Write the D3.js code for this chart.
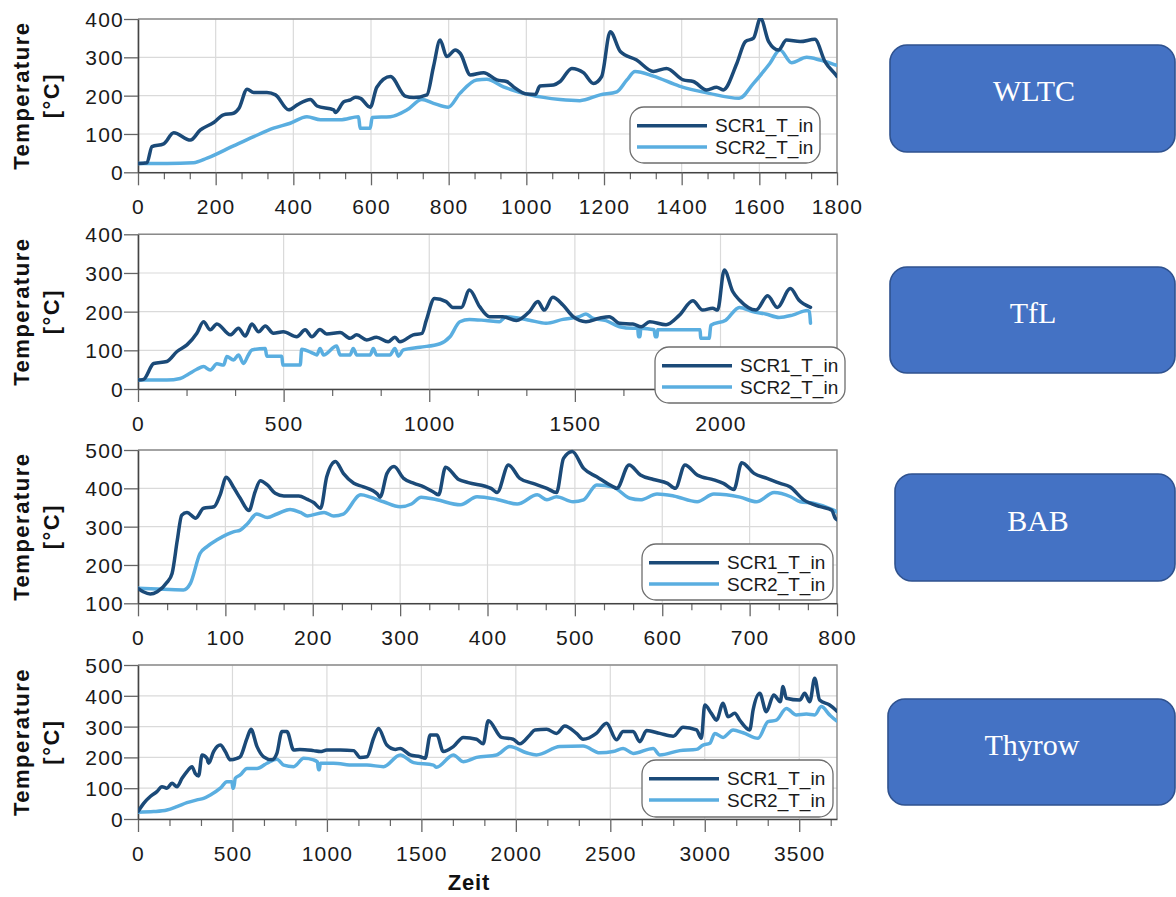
<!DOCTYPE html>
<html>
<head>
<meta charset="utf-8">
<script src="https://cdn.jsdelivr.net/npm/d3@7"></script>
<style>
  body { margin: 0; background: #fff; }
  svg { display: block; }
  .tick text { font-family: "Liberation Sans", Arial, sans-serif; font-size: 21px; letter-spacing: 1.2px; fill: #1a1a1a; }
</style>
</head>
<body>
<svg id="chart" width="1176" height="897"></svg>
<script>
// ---- Drive cycles and series ----
const cycleNames = ["WLTC", "TfL", "BAB", "Thyrow"];
const seriesNames = ["SCR1_T_in", "SCR2_T_in"];
const xAxisTitle = "Zeit";
const yAxisTitle = ["Temperature", "[°C]"];

// ---- Axis ticks and ranges ----
const wltcXTicks = [0, 200, 400, 600, 800, 1000, 1200, 1400, 1600, 1800];
const tflXTicks = [0, 500, 1000, 1500, 2000];
const babXTicks = [0, 100, 200, 300, 400, 500, 600, 700, 800];
const thyrowXTicks = [0, 500, 1000, 1500, 2000, 2500, 3000, 3500];
const wltcYTicks = [0, 100, 200, 300, 400];
const tflYTicks = [0, 100, 200, 300, 400];
const babYTicks = [100, 200, 300, 400, 500];
const thyrowYTicks = [0, 100, 200, 300, 400, 500];
const wltcXMax = 1800, tflXMax = 2400, babXMax = 800, thyrowXMax = 3700;

// ---- WLTC ----
const wltcT1 = [0,23,36,66,92,135,160,195,220,246,260,281,298,332,354,388,410,444,461,504,508,530,547,560,573,598,615,650,688,710,744,761,778,795,817,830,856,890,924,949,967,1001,1023,1035,1070,1087,1117,1147,1173,1194,1216,1242,1284,1327,1361,1404,1430,1464,1490,1507,1542,1564,1585,1603,1624,1649,1670,1705,1743,1769,1797,1800];
const wltcV1 = [23,25,67,74,103,84,110,130,150,154,167,217,208,208,202,163,176,190,173,163,156,184,189,196,193,170,222,250,199,195,202,276,345,302,319,310,254,260,241,237,223,204,203,225,228,237,271,260,232,250,367,315,293,263,271,241,237,215,222,215,284,341,350,402,341,319,345,341,347,289,254,250];
const wltcT2 = [0,75,143,178,246,298,349,392,435,470,521,568,572,598,603,650,693,731,761,799,829,872,898,941,1009,1087,1138,1190,1233,1259,1280,1327,1394,1471,1548,1585,1627,1653,1683,1722,1756,1797,1800];
const wltcV2 = [23,23,25,37,69,93,115,128,145,137,137,145,115,115,143,145,163,190,180,170,206,241,243,223,202,190,187,202,210,241,263,251,225,206,193,232,284,319,286,300,293,280,279];

// ---- TfL ----
const tflT1 = [0,19,54,99,134,168,202,225,248,271,317,345,368,391,414,437,465,499,545,574,597,625,648,694,728,751,785,819,859,882,899,945,975,990,1018,1058,1081,1110,1138,1173,1207,1253,1299,1344,1373,1395,1424,1459,1494,1538,1584,1618,1653,1699,1728,1757,1813,1859,1905,1939,1973,1990,2013,2042,2065,2122,2162,2195,2240,2269,2309];
const tflV1 = [23,25,66,71,97,114,144,174,153,168,140,157,137,168,148,163,144,148,135,153,135,154,142,146,131,140,127,134,122,134,122,140,144,178,234,226,211,211,256,213,187,187,177,200,226,204,237,217,187,174,183,187,170,168,161,174,166,191,228,204,209,204,308,252,230,204,241,211,260,230,211];
const tflT2 = [0,99,145,174,202,225,248,271,294,305,328,345,362,379,391,437,442,494,497,557,562,602,614,625,637,682,694,728,739,751,797,808,819,865,882,894,911,968,1037,1071,1105,1138,1195,1241,1264,1310,1344,1401,1459,1515,1538,1561,1607,1653,1699,1716,1718,1724,1726,1772,1776,1782,1784,1859,1930,1932,1961,1967,2018,2065,2110,2155,2201,2247,2298,2305,2309];
const tflV2 = [23,23,27,39,51,58,49,65,62,84,75,88,66,88,101,105,85,85,62,62,103,92,88,105,88,111,88,88,105,88,88,105,88,88,105,85,101,108,117,135,174,180,177,174,187,183,178,170,180,187,194,183,177,161,157,157,135,135,157,153,135,135,153,153,153,131,131,165,178,211,200,194,185,191,203,200,170];

// ---- BAB ----
const babT1 = [0,6,14,22,33,39,45,50,56,66,75,87,94,101,110,117,127,134,140,148,157,167,184,194,201,209,216,226,235,247,258,274,277,285,293,304,316,327,339,344,352,367,378,404,411,424,437,452,468,479,487,497,510,525,544,548,562,575,590,606,615,626,640,659,670,682,691,705,720,735,746,762,781,794,798,800];
const babV1 = [139,130,124,130,154,178,265,330,337,322,348,352,383,429,400,374,342,391,420,409,387,380,380,371,363,348,430,470,439,413,404,385,377,439,457,426,413,404,389,383,455,423,415,400,389,461,426,413,400,389,478,496,452,430,404,400,461,435,423,413,400,461,435,422,413,397,467,439,426,413,404,370,352,343,322,318];
const babT2 = [0,22,52,60,71,79,90,102,110,117,125,136,148,159,174,186,194,213,224,235,255,266,281,300,313,324,342,369,388,411,434,457,468,479,498,510,525,544,563,575,594,613,640,659,689,708,728,747,758,773,796,800];
const babV2 = [139,137,135,152,230,248,265,280,287,291,307,333,324,333,345,337,328,337,328,333,383,377,365,352,359,377,370,357,378,371,359,383,370,378,365,370,409,403,374,370,385,380,365,385,377,365,389,378,365,361,343,338];

// ---- Thyrow ----
const thyrowT1 = [0,30,65,100,127,153,180,206,233,259,286,303,321,339,365,374,400,436,462,489,524,541,577,598,630,665,709,735,762,788,824,857,929,965,1000,1071,1141,1176,1212,1247,1273,1317,1362,1388,1441,1494,1520,1547,1582,1616,1669,1722,1792,1827,1854,1924,1986,2021,2074,2101,2163,2215,2259,2321,2356,2426,2480,2533,2568,2621,2656,2692,2762,2833,2885,2956,2982,3000,3035,3062,3097,3123,3159,3185,3238,3256,3291,3326,3365,3400,3414,3432,3503,3529,3556,3582,3608,3661,3693,3700];
const thyrowV1 = [24,51,73,89,105,100,116,105,132,154,170,148,140,208,197,181,219,240,219,192,197,202,262,291,235,202,192,213,284,284,224,226,222,219,224,224,222,200,202,262,294,240,226,229,208,202,197,273,273,219,235,265,259,244,319,265,259,244,273,289,291,278,302,278,259,278,311,257,284,284,251,287,278,269,298,289,262,370,343,321,376,332,343,321,289,354,408,348,403,381,430,392,386,408,381,457,386,370,354,350];
const thyrowT2 = [0,83,153,206,259,312,347,383,436,471,497,502,506,515,541,577,630,683,735,771,824,877,929,950,955,960,965,1035,1141,1212,1300,1388,1459,1564,1580,1669,1722,1792,1898,1968,2056,2109,2233,2356,2444,2515,2568,2621,2727,2762,2868,2956,2991,3027,3053,3097,3150,3203,3282,3335,3379,3432,3485,3538,3582,3617,3661,3693,3700];
const thyrowV2 = [22,24,29,40,53,62,67,78,100,121,121,100,100,132,143,164,164,181,194,175,170,197,192,185,160,160,181,181,175,175,170,208,183,175,168,208,186,200,208,235,215,208,235,237,215,219,229,213,229,208,222,226,240,246,278,265,289,280,262,316,321,359,338,341,338,365,338,321,318];

// ---- Build the panel table from the arrays above ----
const panels = [
  { name: cycleNames[0], xMax: wltcXMax, xTicks: wltcXTicks, yTicks: wltcYTicks,
    s1: d3.zip(wltcT1, wltcV1), s2: d3.zip(wltcT2, wltcV2) },
  { name: cycleNames[1], xMax: tflXMax, xTicks: tflXTicks, yTicks: tflYTicks,
    s1: d3.zip(tflT1, tflV1), s2: d3.zip(tflT2, tflV2) },
  { name: cycleNames[2], xMax: babXMax, xTicks: babXTicks, yTicks: babYTicks,
    s1: d3.zip(babT1, babV1), s2: d3.zip(babT2, babV2) },
  { name: cycleNames[3], xMax: thyrowXMax, xTicks: thyrowXTicks, yTicks: thyrowYTicks,
    s1: d3.zip(thyrowT1, thyrowV1), s2: d3.zip(thyrowT2, thyrowV2) }
];

// ---- Layout ----
const X0 = 138, X1 = 837;
const frames = [
  { top: 19, bottom: 172.3 },
  { top: 234.3, bottom: 389 },
  { top: 450, bottom: 603.3 },
  { top: 665, bottom: 819 }
];
const legendBoxes = [
  { x: 630, y: 107, w: 190, h: 56 },
  { x: 655, y: 347, w: 190, h: 56 },
  { x: 642, y: 544, w: 191, h: 56 },
  { x: 642, y: 760, w: 191, h: 57 }
];
const cycleBoxes = [
  { x: 890, y: 45, w: 285, h: 107, ty: 101, cx: 1034 },
  { x: 890, y: 267, w: 285, h: 106, ty: 323, cx: 1033 },
  { x: 895, y: 474, w: 280, h: 107, ty: 531, cx: 1038 },
  { x: 888, y: 699, w: 287, h: 106, ty: 755, cx: 1032 }
];
const colors = ["#1b4a78", "#5aaee0"];
const sansFont = '"Liberation Sans", Arial, sans-serif';
const serifFont = '"Liberation Serif", "Times New Roman", serif';

const svg = d3.select("#chart");
const defs = svg.append("defs");

panels.forEach((p, i) => {
  const f = frames[i];
  const yMin = p.yTicks[0], yMax = p.yTicks[p.yTicks.length - 1];
  const x = d3.scaleLinear().domain([0, p.xMax]).range([X0, X1]);
  const y = d3.scaleLinear().domain([yMin, yMax]).range([f.bottom, f.top]);
  const g = svg.append("g").attr("class", "panel");

  // grid
  g.append("g").selectAll("line").data(p.xTicks).join("line")
    .attr("x1", d => x(d)).attr("x2", d => x(d))
    .attr("y1", f.top).attr("y2", f.bottom)
    .attr("stroke", "#dadada").attr("stroke-width", 1.2);
  g.append("g").selectAll("line").data(p.yTicks).join("line")
    .attr("x1", X0).attr("x2", X1)
    .attr("y1", d => y(d)).attr("y2", d => y(d))
    .attr("stroke", "#dadada").attr("stroke-width", 1.2);

  // top / right frame
  g.append("path")
    .attr("d", `M${X0},${f.top}H${X1}V${f.bottom}`)
    .attr("fill", "none").attr("stroke", "#8a8a8a").attr("stroke-width", 1.4);

  // minor x ticks (three intervals per major step)
  const step = p.xTicks[1] - p.xTicks[0];
  const minor = d3.range(0, p.xMax + 1e-6, step / 3)
    .filter(v => Math.abs(v / step - Math.round(v / step)) > 1e-6);
  g.append("g").attr("transform", `translate(0,${f.bottom})`)
    .call(d3.axisBottom(x).tickValues(minor).tickSize(7).tickSizeOuter(0).tickFormat(""))
    .call(a => a.select(".domain").remove())
    .call(a => a.selectAll(".tick line").attr("stroke", "#666").attr("stroke-width", 1.2));

  // major x axis
  g.append("g").attr("transform", `translate(0,${f.bottom})`)
    .call(d3.axisBottom(x).tickValues(p.xTicks).tickSize(13).tickSizeOuter(0).tickFormat(d3.format("d")))
    .call(a => a.select(".domain").attr("stroke", "#444").attr("stroke-width", 1.6))
    .call(a => a.selectAll(".tick line").attr("stroke", "#666").attr("stroke-width", 1.3))
    .call(a => a.selectAll(".tick text").attr("y", 41.5).attr("dy", null));

  // y axis
  g.append("g").attr("transform", `translate(${X0},0)`)
    .call(d3.axisLeft(y).tickValues(p.yTicks).tickSize(14).tickSizeOuter(0).tickFormat(d3.format("d")))
    .call(a => a.select(".domain").attr("stroke", "#444").attr("stroke-width", 1.6))
    .call(a => a.selectAll(".tick line").attr("stroke", "#666").attr("stroke-width", 1.3))
    .call(a => a.selectAll(".tick text").attr("x", -14).attr("dy", "0.36em"));

  // y title
  const cy = (f.top + f.bottom) / 2;
  [29, 59].forEach((bx, k) => {
    g.append("text")
      .attr("transform", `translate(${bx},${cy}) rotate(-90)`)
      .attr("text-anchor", "middle")
      .attr("font-family", sansFont).attr("font-weight", "bold")
      .attr("font-size", 22).attr("letter-spacing", "1.5px")
      .attr("fill", "#111")
      .text(yAxisTitle[k]);
  });

  // series
  const clipId = `clip-${i}`;
  defs.append("clipPath").attr("id", clipId).append("rect")
    .attr("x", X0).attr("y", f.top - 1).attr("width", X1 - X0).attr("height", f.bottom - f.top + 1);
  const line = d3.line().curve(d3.curveMonotoneX).x(d => x(d[0])).y(d => y(d[1]));
  const plot = g.append("g").attr("clip-path", `url(#${clipId})`);
  [p.s2, p.s1].forEach((s, k) => {
    plot.append("path").datum(s)
      .attr("d", line)
      .attr("fill", "none")
      .attr("stroke", colors[1 - k])
      .attr("stroke-width", 3.5)
      .attr("stroke-linejoin", "round")
      .attr("stroke-linecap", "round");
  });

  // legend
  const lb = legendBoxes[i];
  const lg = g.append("g").attr("transform", `translate(${lb.x},${lb.y})`);
  lg.append("rect").attr("width", lb.w).attr("height", lb.h).attr("rx", 14)
    .attr("fill", "#fff").attr("stroke", "#6e6e6e").attr("stroke-width", 1.3);
  seriesNames.forEach((name, k) => {
    const ly = 18.7 + k * 21.3;
    lg.append("line").attr("x1", 7).attr("x2", 77).attr("y1", ly).attr("y2", ly)
      .attr("stroke", colors[k]).attr("stroke-width", 3.6);
    lg.append("text").attr("x", 85).attr("y", ly + 6.5)
      .attr("font-family", sansFont).attr("font-size", 19).attr("fill", "#1a1a1a")
      .text(name);
  });

  // cycle name box
  const cb = cycleBoxes[i];
  svg.append("rect").attr("x", cb.x).attr("y", cb.y).attr("width", cb.w).attr("height", cb.h)
    .attr("rx", 17).attr("fill", "#4472c4").attr("stroke", "#2f528f").attr("stroke-width", 1.6);
  svg.append("text").attr("x", cb.cx).attr("y", cb.ty).attr("text-anchor", "middle")
    .attr("font-family", serifFont).attr("font-size", 30).attr("fill", "#fff")
    .text(p.name);
});

// shared x title
svg.append("text").attr("x", 469).attr("y", 890).attr("text-anchor", "middle")
  .attr("font-family", sansFont).attr("font-weight", "bold").attr("font-size", 22)
  .attr("letter-spacing", "0.8px").attr("fill", "#111")
  .text(xAxisTitle);
</script>
</body>
</html>
